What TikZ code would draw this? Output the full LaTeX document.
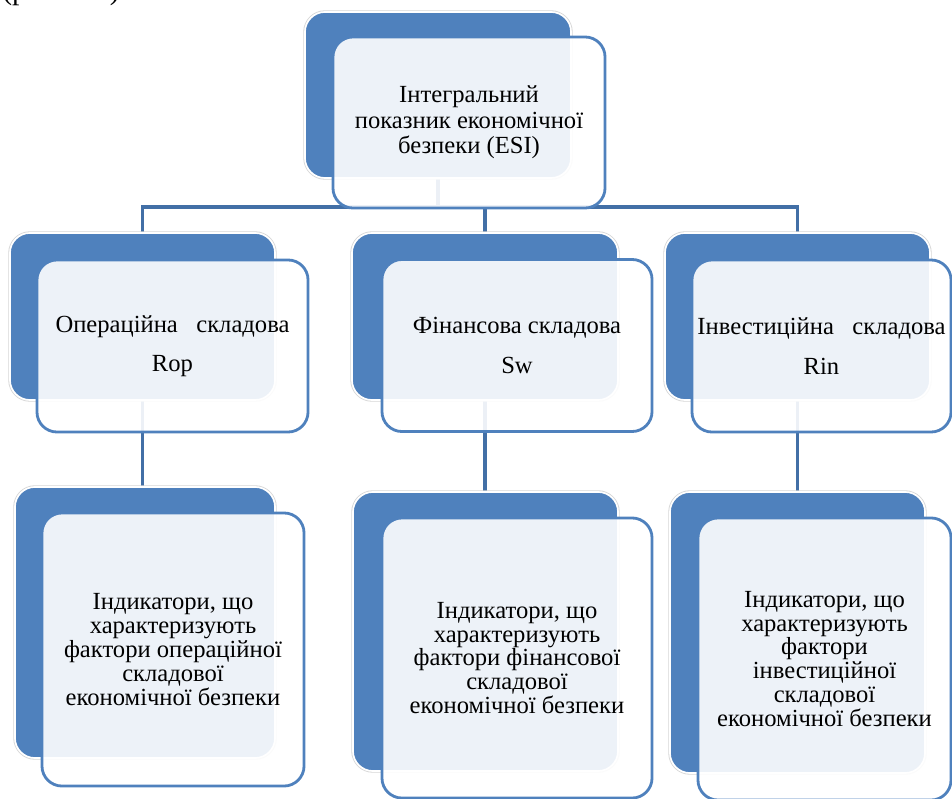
\documentclass[tikz,border=0pt]{standalone}
\usepackage{fontspec}
\setmainfont{Liberation Serif}
\usetikzlibrary{positioning, backgrounds}
\definecolor{accentBlue}{RGB}{79,129,189}
\definecolor{linkBlue}{RGB}{66,111,166}
\definecolor{haloGray}{gray}{0.84}

\begin{document}
\begin{tikzpicture}[x=0.025cm, y=-0.025cm,
    back/.style={rounded corners=0.5cm, fill=accentBlue, draw=white, line width=1.2pt, inner sep=0pt,
        preaction={draw=haloGray, line width=2.4pt}},
    front/.style={rounded corners=0.5cm, fill=white, fill opacity=0.9, text opacity=1, draw=accentBlue,
        line width=2pt, inner sep=0pt, align=center, font=\fontsize{17.5}{17}\selectfont},
    link/.style={linkBlue, line width=2.2pt}]
    \clip (0,0) rectangle (952,799);

    % cut-off caption line from the page above
    \node[anchor=base west, inner sep=0pt, font=\fontsize{21}{24}\selectfont] (figref) at (2,-0.5) {(рис. 2.1)};

    % top level
    \node[back, minimum width=6.65cm, minimum height=4.15cm] (esiback) at (438,95) {};
    \node[front, minimum width=6.8cm, minimum height=4.275cm, font=\fontsize{17.5}{18}\selectfont] (esi) at (469,122.5)
        {Інтегральний\\ показник економічної\\ безпеки (ESI)};

    % components
    \node[back, minimum width=6.625cm, minimum height=4.175cm] (opback) at (142.5,316.5) {};
    \node[front, minimum width=6.775cm, minimum height=4.3cm] (op) at (172.5,346)
        {Операційна\hspace{0.5em} складова\\[11pt] Rop};
    \node[back, minimum width=6.65cm, minimum height=4.175cm] (finback) at (485,316.5) {};
    \node[front, minimum width=6.75cm, minimum height=4.3cm] (fin) at (517,345.5)
        {Фінансова складова\\[11pt] Sw};
    \node[back, minimum width=6.625cm, minimum height=4.175cm] (invback) at (797.5,316.5) {};
    \node[front, minimum width=6.475cm, minimum height=4.3cm] (inv) at (821.5,346)
        {Інвестиційна\hspace{0.5em} складова\\[11pt] Rin};

    % indicators
    \node[back, minimum width=6.5cm, minimum height=6.775cm] (opindback) at (145,622.5) {};
    \node[front, minimum width=6.55cm, minimum height=6.825cm] (opind) at (173,649.5)
        {Індикатори, що\\ характеризують\\ фактори операційної\\ складової\\ економічної безпеки};
    \node[back, minimum width=6.625cm, minimum height=6.975cm] (finindback) at (485.5,631.5) {};
    \node[front, minimum width=6.75cm, minimum height=7cm] (finind) at (517,658)
        {Індикатори, що\\ характеризують\\ фактори фінансової\\ складової\\ економічної безпеки};
    \node[back, minimum width=6.375cm, minimum height=7.025cm] (invindback) at (797.5,632.5) {};
    \node[front, minimum width=6.325cm, minimum height=7.05cm] (invind) at (824.5,659)
        {Індикатори, що\\ характеризують\\ фактори\\ інвестиційної\\ складової\\ економічної безпеки};

    \coordinate (bus) at (0,207);
    \begin{scope}[on background layer]
        \foreach \kid in {opback, finback, invback}
            \draw[link] (esiback.center) -- (esiback.center |- bus) -| (\kid.center);
        \foreach \up/\down in {opback/opindback, finback/finindback, invback/invindback}
            \draw[link] (\up.center) -- (\up.center |- \down.center);
    \end{scope}
\end{tikzpicture}
\end{document}
